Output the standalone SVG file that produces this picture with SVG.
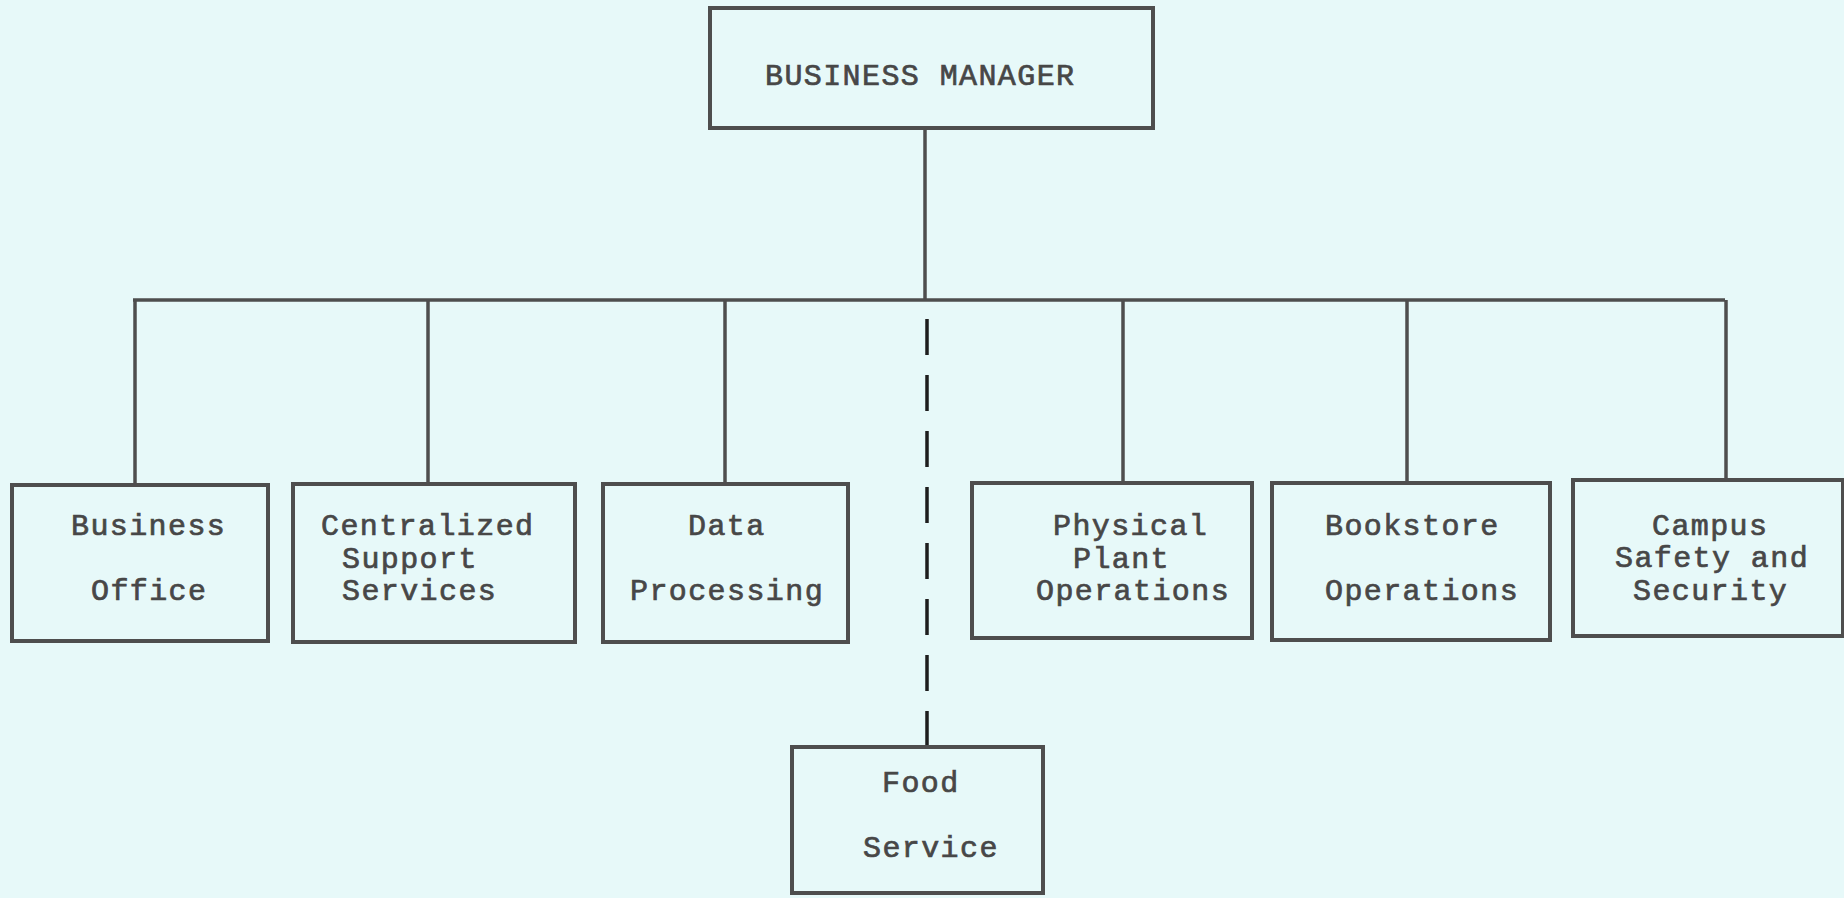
<svg xmlns="http://www.w3.org/2000/svg" width="1844" height="898" viewBox="0 0 1844 898">
<style>
.box{fill:none;stroke:#4e4e4e;stroke-width:4}
.ln{stroke:#4e4e4e;stroke-width:3.5;fill:none}
.dash{stroke:#1e1e1e;stroke-width:3.5;stroke-dasharray:36 20;fill:none}
text{font-family:"Liberation Mono","Courier New",monospace;font-size:30px;letter-spacing:1.4px;fill:#474747;stroke:#474747;stroke-width:0.7px}
</style>
<rect width="1844" height="898" fill="#e7f9f9"/>
<g id="connectors">
<line class="ln" x1="925" y1="128" x2="925" y2="300"/>
<line class="ln" x1="133" y1="300" x2="1725" y2="300" stroke-width="5"/>
<line class="ln" x1="135" y1="300" x2="135" y2="485"/>
<line class="ln" x1="428" y1="300" x2="428" y2="484"/>
<line class="ln" x1="725" y1="300" x2="725" y2="484"/>
<line class="ln" x1="1123" y1="300" x2="1123" y2="483"/>
<line class="ln" x1="1407" y1="300" x2="1407" y2="483"/>
<line class="ln" x1="1726" y1="300" x2="1726" y2="480"/>
<line class="dash" x1="927" y1="747" x2="927" y2="310"/>
</g>
<g id="business-manager">
<rect class="box" x="710" y="8" width="443" height="120"/>
<text x="765" y="85">BUSINESS MANAGER</text>
</g>
<g id="business-office">
<rect class="box" x="12" y="485" width="256" height="156"/>
<text x="71" y="535">Business</text>
<text x="91" y="600">Office</text>
</g>
<g id="centralized-support-services">
<rect class="box" x="293" y="484" width="282" height="158"/>
<text x="321" y="535">Centralized</text>
<text x="342" y="568">Support</text>
<text x="342" y="600">Services</text>
</g>
<g id="data-processing">
<rect class="box" x="603" y="484" width="245" height="158"/>
<text x="688" y="535">Data</text>
<text x="630" y="600">Processing</text>
</g>
<g id="physical-plant-operations">
<rect class="box" x="972" y="483" width="280" height="155"/>
<text x="1053" y="535">Physical</text>
<text x="1073" y="568">Plant</text>
<text x="1036" y="600">Operations</text>
</g>
<g id="bookstore-operations">
<rect class="box" x="1272" y="483" width="278" height="157"/>
<text x="1325" y="535">Bookstore</text>
<text x="1325" y="600">Operations</text>
</g>
<g id="campus-safety-security">
<rect class="box" x="1573" y="480" width="270" height="156"/>
<text x="1652" y="535">Campus</text>
<text x="1615" y="567">Safety and</text>
<text x="1633" y="600">Security</text>
</g>
<g id="food-service">
<rect class="box" x="792" y="747" width="251" height="146"/>
<text x="882" y="792">Food</text>
<text x="863" y="857">Service</text>
</g>
</svg>
